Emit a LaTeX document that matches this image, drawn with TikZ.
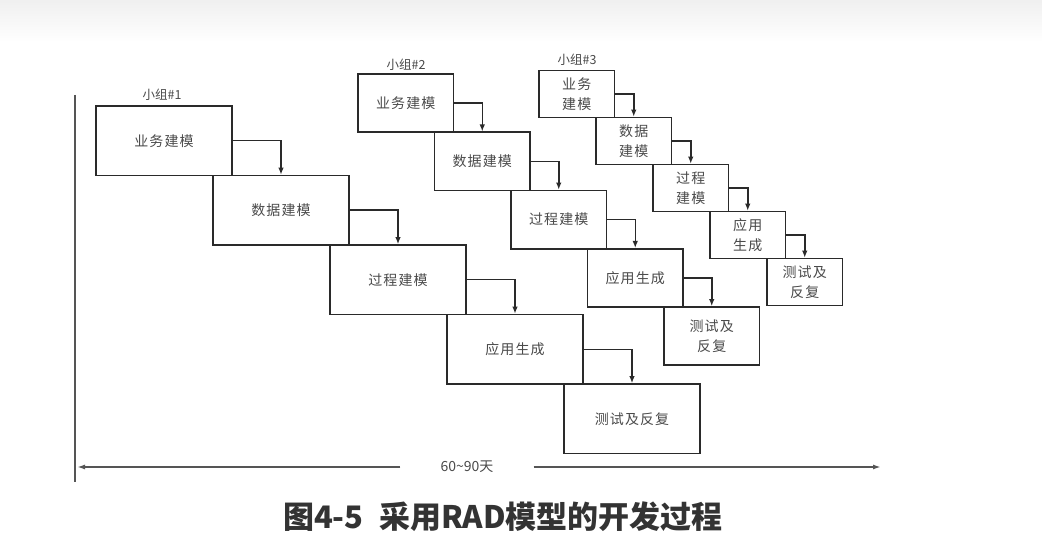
\documentclass[tikz,border=0pt]{standalone}
\usepackage{fontspec}
\setmainfont{Noto Sans CJK SC}
\newfontfamily\boxfont[LetterSpace=8]{Noto Sans CJK SC}
\usetikzlibrary{arrows.meta}
\definecolor{boxline}{HTML}{2A2A2A}
\definecolor{txt}{HTML}{4A4A4A}
\definecolor{capc}{HTML}{333333}
\definecolor{axisc}{HTML}{555555}
\tikzset{
  box/.style={draw=boxline, line width=1.6pt, fill=white, inner sep=0pt,
    text=txt, align=center, font=\boxfont\fontsize{14}{20}\selectfont},
  gA/.style={box, minimum width=136pt, minimum height=69.5pt},
  gB/.style={box, minimum width=95.5pt, minimum height=58.25pt},
  gC/.style={box, minimum width=75.5pt, minimum height=47pt},
  flow/.style={draw=boxline, line width=1.5pt, -{Latex[length=7pt,width=5.5pt]}},
  grp/.style={text=txt, inner sep=0pt, font=\fontsize{12.5}{14}\selectfont},
  axisline/.style={draw=axisc, line width=2pt},
  axisarrow/.style={axisline, -{Latex[length=8pt,width=5pt]}},
  daylabel/.style={text=txt, inner sep=0pt, minimum width=133pt, font=\fontsize{14}{16}\selectfont},
  caption/.style={text=capc, inner sep=0pt, font=\fontsize{31}{34}\selectfont\bfseries},
}
\begin{document}
\begin{tikzpicture}[x=1pt, y=-1pt]
\useasboundingbox (0,0) rectangle (1042,556);
\fill[white] (0,0) rectangle (1042,556);
\shade[top color=black!6, bottom color=white] (0,0) rectangle (1042,42);

% vertical time line
\coordinate (vTop) at (75,95);
\coordinate (vBot) at (75,482);
\draw[axisline] (vTop) -- (vBot);

% group 1
\node[grp] (l1) at (162,95) {小组\#1};
\node[gA] (a1) at (164,140.75) {业务建模};
\node[gA] (a2) at (281,210.25) {数据建模};
\node[gA] (a3) at (398,279.75) {过程建模};
\node[gA] (a4) at (515,349.25) {应用生成};
\node[gA] (a5) at (632,418.75) {测试及反复};
\draw[flow] (a1.east) -| (a2.north);
\draw[flow] (a2.east) -| (a3.north);
\draw[flow] (a3.east) -| (a4.north);
\draw[flow] (a4.east) -| (a5.north);

% group 2
\node[grp] (l2) at (406,65) {小组\#2};
\node[gB] (b1) at (405.75,103.1) {业务建模};
\node[gB] (b2) at (482.25,161.4) {数据建模};
\node[gB] (b3) at (558.75,219.6) {过程建模};
\node[gB] (b4) at (635.25,277.9) {应用生成};
\node[gB] (b5) at (711.75,336.1) {测试及\\反复};
\draw[flow] (b1.east) -| (b2.north);
\draw[flow] (b2.east) -| (b3.north);
\draw[flow] (b3.east) -| (b4.north);
\draw[flow] (b4.east) -| (b5.north);

% group 3
\node[grp] (l3) at (577,60) {小组\#3};
\node[gC] (c1) at (576.75,94) {业务\\建模};
\node[gC] (c2) at (633.75,141) {数据\\建模};
\node[gC] (c3) at (690.75,188) {过程\\建模};
\node[gC] (c4) at (747.75,235) {应用\\生成};
\node[gC] (c5) at (804.75,282) {测试及\\反复};
\draw[flow] (c1.east) -| (c2.north);
\draw[flow] (c2.east) -| (c3.north);
\draw[flow] (c3.east) -| (c4.north);
\draw[flow] (c4.east) -| (c5.north);

% duration axis
\coordinate (axL) at (77,467);
\coordinate (axR) at (881,467);
\node[daylabel] (days) at (467,467) {60\textasciitilde 90天};
\draw[axisarrow] (days.west) -- (axL);
\draw[axisarrow] (days.east) -- (axR);

% caption
\node[caption] (cap) at (503,517) {图4-5\hspace{0.5em}采用RAD模型的开发过程};
\end{tikzpicture}
\end{document}
